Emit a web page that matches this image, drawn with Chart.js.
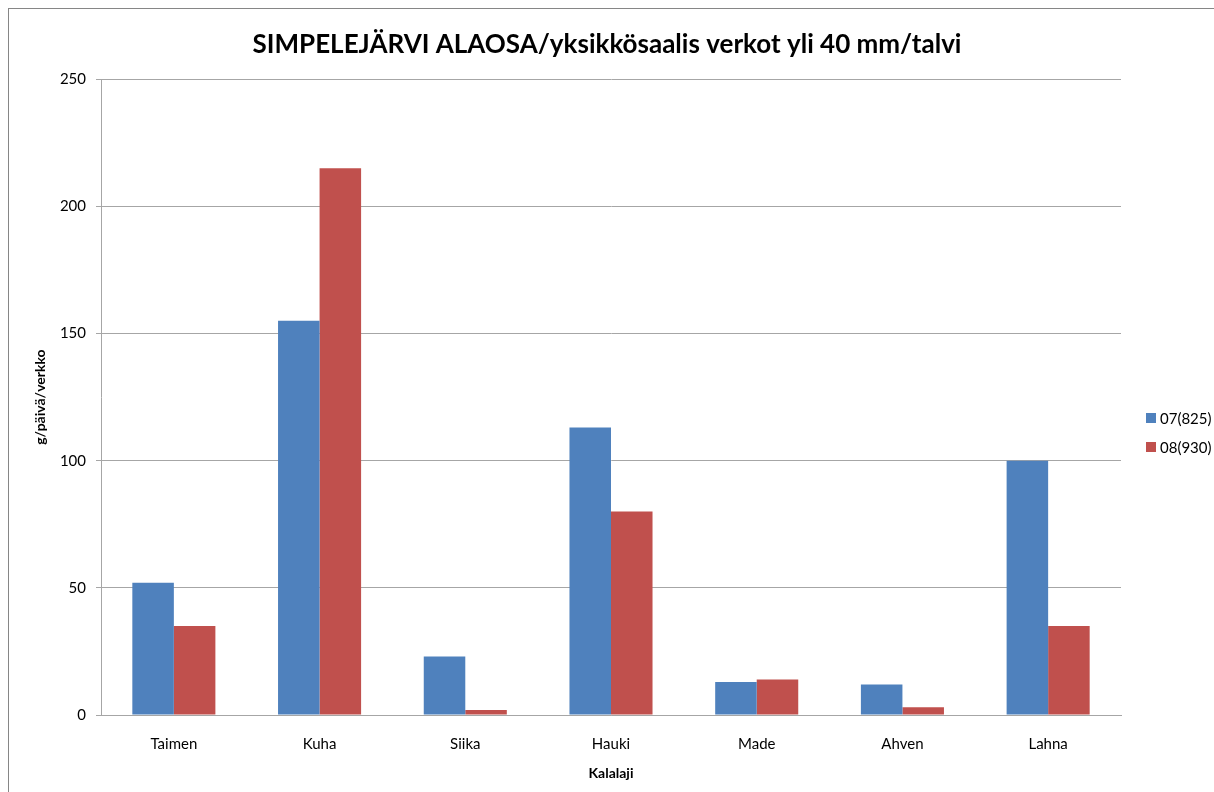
<!DOCTYPE html>
<html>
<head>
<meta charset="utf-8">
<script src="https://cdn.jsdelivr.net/npm/chart.js@4"></script>
<style>
  html, body { margin: 0; padding: 0; background: #fff; overflow: hidden; }
  #wrap { position: absolute; left: 0; top: 0; width: 1214px; height: 792px; }
  #frame { position: absolute; left: 8px; top: 8px; width: 1220px; height: 800px; border: 1px solid #868686; box-sizing: border-box; }
</style>
</head>
<body>
<div id="frame"></div>
<div id="wrap"><canvas id="chart" width="1214" height="792"></canvas></div>
<script>
const categories = ['Taimen', 'Kuha', 'Siika', 'Hauki', 'Made', 'Ahven', 'Lahna'];
const series07 = [52, 155, 23, 113, 13, 12, 100];
const series08 = [35, 215, 2, 80, 14, 3, 35];
const seriesNames = ['07(825)', '08(930)'];
const seriesColors = ['#4F81BD', '#C0504D'];
const yTicks = [0, 50, 100, 150, 200, 250];

const FONT = 'Lato, "Open Sans", sans-serif';

// legend drawn at the right of the plot, like the original sheet
const sideLegend = {
    id: 'sideLegend',
    afterDraw(chart) {
        const ctx = chart.ctx;
        const area = chart.chartArea;
        const x = area.right + 25;
        const y0 = 418;
        ctx.save();
        ctx.font = '15px ' + FONT;
        ctx.textBaseline = 'middle';
        chart.data.datasets.forEach((ds, i) => {
            const y = y0 + i * 29;
            ctx.fillStyle = ds.backgroundColor;
            ctx.fillRect(x, y - 5, 10, 10);
            ctx.fillStyle = '#000';
            ctx.fillText(ds.label, x + 14, y + 1);
        });
        ctx.restore();
    }
};

new Chart(document.getElementById('chart'), {
    type: 'bar',
    data: {
        labels: categories,
        datasets: [
            { label: seriesNames[0], data: series07, backgroundColor: seriesColors[0], barPercentage: 1, categoryPercentage: 0.57 },
            { label: seriesNames[1], data: series08, backgroundColor: seriesColors[1], barPercentage: 1, categoryPercentage: 0.57 }
        ]
    },
    options: {
        responsive: false,
        animation: false,
        layout: { padding: 0 },
        plugins: {
            legend: { display: false },
            tooltip: { enabled: false },
            title: {
                display: true,
                text: 'SIMPELEJÄRVI ALAOSA/yksikkösaalis verkot yli 40 mm/talvi',
                color: '#000',
                font: { family: FONT, size: 26, weight: 'bold', lineHeight: 1.2 },
                padding: { top: 29, bottom: 19 }
            }
        },
        scales: {
            x: {
                grid: { display: false, drawTicks: false },
                border: { color: '#a6a6a6', width: 1 },
                ticks: { color: '#000', font: { family: FONT, size: 15 }, padding: 20 },
                title: {
                    display: true,
                    text: 'Kalalaji',
                    color: '#000',
                    font: { family: FONT, size: 14, weight: 'bold', lineHeight: 1.2 },
                    padding: { top: 0, bottom: 10 }
                },
                afterFit(scale) { scale.height = 77; }
            },
            y: {
                min: 0,
                max: 250,
                afterBuildTicks(scale) { scale.ticks = yTicks.map(v => ({ value: v })); },
                grid: { color: '#a6a6a6', tickLength: 5, tickColor: '#a6a6a6' },
                border: { color: '#a6a6a6', width: 1 },
                ticks: { color: '#000', font: { family: FONT, size: 15 }, padding: 10 },
                title: {
                    display: true,
                    text: 'g/päivä/verkko',
                    color: '#000',
                    font: { family: FONT, size: 14, weight: 'bold', lineHeight: 1.2 },
                    padding: { top: 32, bottom: 0 }
                },
                afterFit(scale) { scale.width = 101; }
            },
            // empty right axis keeps room for the legend while the title stays centred on the page
            yRight: {
                position: 'right',
                display: true,
                grid: { display: false, drawTicks: false },
                border: { display: false },
                ticks: { display: false },
                afterFit(scale) { scale.width = 93; }
            }
        }
    },
    plugins: [sideLegend]
});
</script>
</body>
</html>
